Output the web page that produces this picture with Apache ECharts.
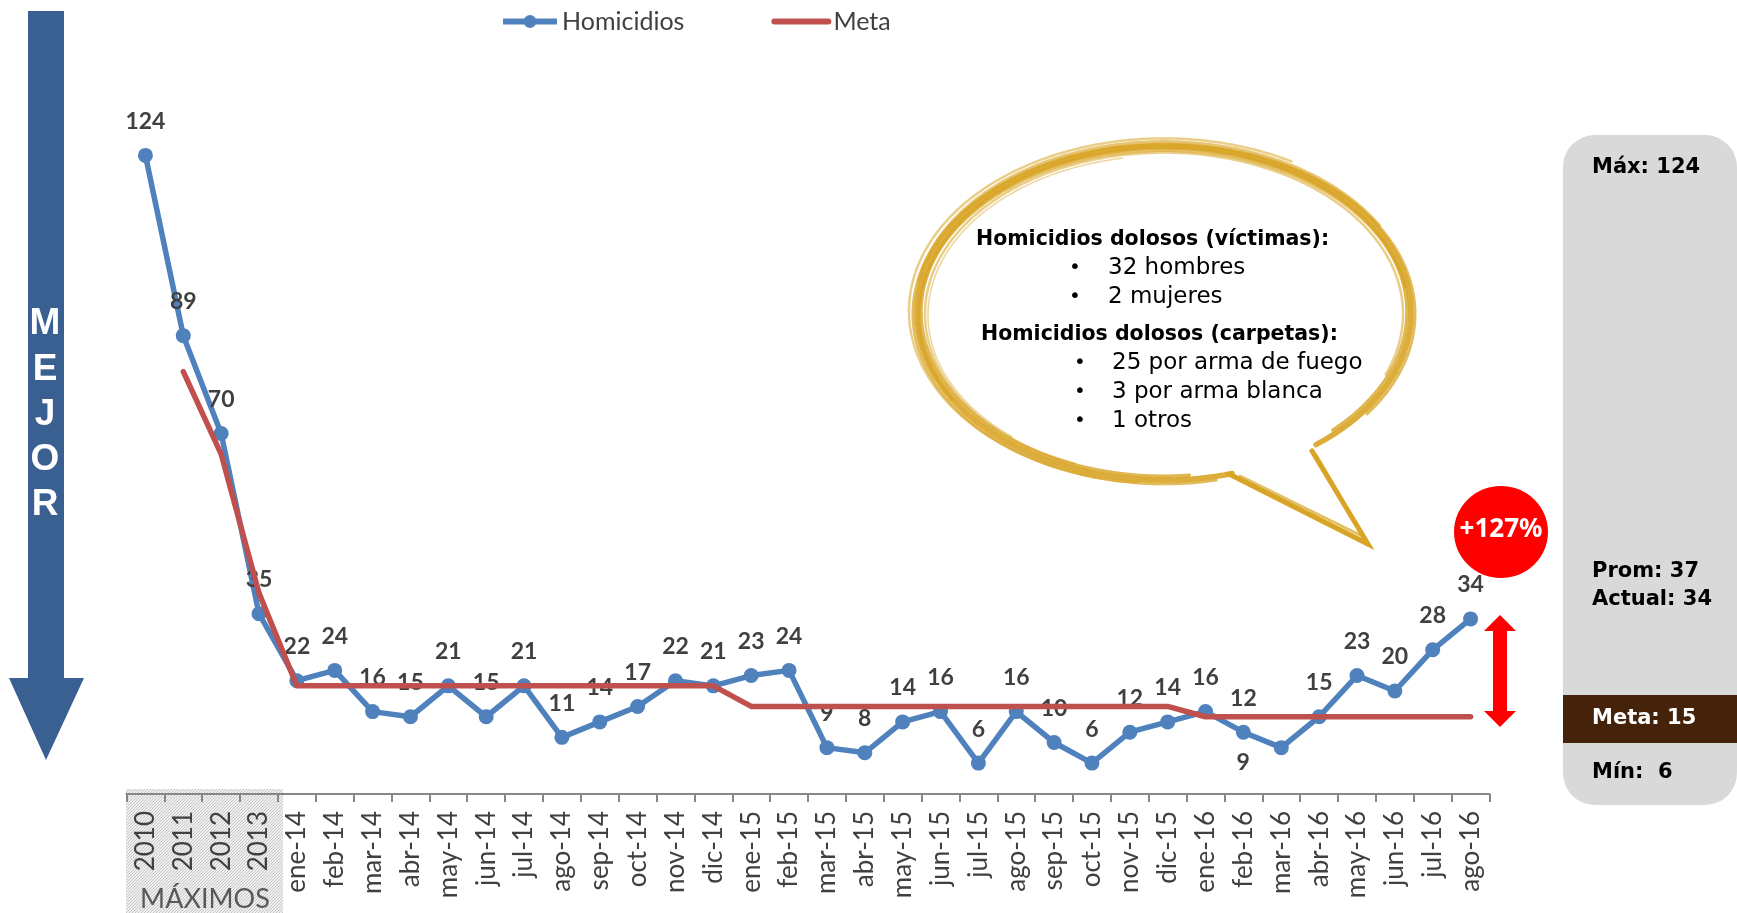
<!DOCTYPE html>
<html>
<head>
<meta charset="utf-8">
<script src="https://cdn.jsdelivr.net/npm/echarts@6/dist/echarts.min.js"></script>
<style>
html,body{margin:0;padding:0;background:#fff;}
#chart{width:1737px;height:913px;}
</style>
</head>
<body>
<div id="chart"></div>
<script>
// ---- data ----
const categories = ['2010','2011','2012','2013',
  'ene-14','feb-14','mar-14','abr-14','may-14','jun-14','jul-14','ago-14','sep-14','oct-14','nov-14','dic-14',
  'ene-15','feb-15','mar-15','abr-15','may-15','jun-15','jul-15','ago-15','sep-15','oct-15','nov-15','dic-15',
  'ene-16','feb-16','mar-16','abr-16','may-16','jun-16','jul-16','ago-16'];
const homicidios = [124, 89, 70, 35,
  22, 24, 16, 15, 21, 15, 21, 11, 14, 17, 22, 21,
  23, 24, 9, 8, 14, 16, 6, 16, 10, 6, 12, 14,
  16, 12, 9, 15, 23, 20, 28, 34];
const meta = [null, 82, 66, 39,
  21, 21, 21, 21, 21, 21, 21, 21, 21, 21, 21, 21,
  17, 17, 17, 17, 17, 17, 17, 17, 17, 17, 17, 17,
  15, 15, 15, 15, 15, 15, 15, 15];
const seriesNames = ['Homicidios', 'Meta'];
const panelTexts = ['Máx: 124', 'Prom: 37', 'Actual: 34', 'Meta: 15', 'Mín:  6'];
const changeText = '+127%';
const bubbleTitles = ['Homicidios dolosos (víctimas):', 'Homicidios dolosos (carpetas):'];
const bubbleVictimas = ['32 hombres', '2 mujeres'];
const bubbleCarpetas = ['25 por arma de fuego', '3 por arma blanca', '1 otros'];
const arrowLetters = ['M', 'E', 'J', 'O', 'R'];
const maxLabel = 'MÁXIMOS';

// ---- helpers ----
const BLUE = '#4F81BD', RED = '#C0504D', GOLD = '#D8A425';
function ellipsePts(cx, cy, rx, ry, a0, a1, n) {
  const pts = [];
  for (let i = 0; i <= n; i++) {
    const a = (a0 + (a1 - a0) * i / n) * Math.PI / 180;
    pts.push([cx + rx * Math.cos(a), cy + ry * Math.sin(a)]);
  }
  return pts;
}
function dotPattern() {
  const c = document.createElement('canvas');
  c.width = 3; c.height = 3;
  const g = c.getContext('2d');
  g.fillStyle = '#EFEFEF'; g.fillRect(0, 0, 3, 3);
  g.fillStyle = '#C8C8C8'; g.fillRect(0, 0, 1, 1); g.fillRect(2, 1, 1, 1); g.fillRect(1, 2, 1, 1);
  return c;
}

const chart = echarts.init(document.getElementById('chart'), null, {renderer: 'canvas'});

// data labels (one point has its label shifted as in the reference)
const homData = homicidios.map((v, i) => {
  if (categories[i] === 'mar-16') {
    return {value: v, label: {position: 'inside', offset: [-38, 15]}};
  }
  return v;
});

const graphics = [];
// MÁXIMOS box
graphics.push({type: 'rect', z: -1, shape: {x: 126, y: 789, width: 157, height: 124},
  style: {fill: {image: dotPattern(), repeat: 'repeat'}}});
graphics.push({type: 'text', z: -1, style: {text: maxLabel, x: 205, y: 899, align: 'center', verticalAlign: 'middle',
  fontFamily: 'Lato', fontSize: 27, fill: '#595959'}});

// MEJOR arrow
graphics.push({type: 'polygon', shape: {points: [[28, 11], [64, 11], [64, 678], [84, 678], [46, 760], [9, 678], [28, 678]]},
  style: {fill: '#396091'}});
arrowLetters.forEach((ch, i) => {
  graphics.push({type: 'text', style: {text: ch, x: 45, y: 324 + i * 45.3, align: 'center', verticalAlign: 'middle',
    fontFamily: 'Liberation Sans', fontWeight: 'bold', fontSize: 37, fill: '#ffffff'}});
});

// speech bubble (brush strokes)
const bcx = 1164, bcy = 313;
const strokes = [
  {dr: 0, dy: 0, w: 5.5, op: 0.9, a0: 74, a1: 412},
  {dr: -4, dy: -1, w: 3.5, op: 0.8, a0: 84, a1: 406},
  {dr: 4, dy: 1, w: 3, op: 0.75, a0: 78, a1: 396},
  {dr: -8, dy: 1, w: 2.5, op: 0.55, a0: 112, a1: 382},
  {dr: 8, dy: -2, w: 2.5, op: 0.55, a0: 96, a1: 300},
  {dr: -2, dy: 3, w: 3, op: 0.7, a0: 150, a1: 350},
  {dr: 2, dy: -3, w: 3, op: 0.65, a0: 190, a1: 330},
  {dr: -11, dy: 2, w: 1.5, op: 0.45, a0: 130, a1: 260}
];
strokes.forEach(s => {
  graphics.push({type: 'polyline', shape: {points: ellipsePts(bcx, bcy + s.dy, 247 + s.dr, 167 + s.dr * 0.7, s.a0, s.a1, 180)},
    style: {stroke: GOLD, lineWidth: s.w, opacity: s.op, fill: null, lineCap: 'round', lineJoin: 'round'}});
});
// tail
graphics.push({type: 'polyline', shape: {points: [[1312, 451], [1368, 544], [1229, 474]]},
  style: {stroke: GOLD, lineWidth: 5, fill: null, lineCap: 'round', lineJoin: 'miter'}});
graphics.push({type: 'polyline', shape: {points: [[1316, 455], [1364, 537], [1240, 476]]},
  style: {stroke: GOLD, lineWidth: 3, opacity: 0.7, fill: null, lineCap: 'round'}});

// bubble texts
const bubbleFont = 'DejaVu Sans';
graphics.push({type: 'text', style: {text: bubbleTitles[0], x: 976, y: 240, verticalAlign: 'middle',
  fontFamily: bubbleFont, fontWeight: 'bold', fontSize: 20.5, fill: '#000'}});
bubbleVictimas.forEach((t, i) => {
  graphics.push({type: 'text', style: {text: '•', x: 1075, y: 268 + i * 29, align: 'center', verticalAlign: 'middle',
    fontFamily: bubbleFont, fontSize: 20, fill: '#000'}});
  graphics.push({type: 'text', style: {text: t, x: 1108, y: 268 + i * 29, verticalAlign: 'middle',
    fontFamily: bubbleFont, fontSize: 23, fill: '#000'}});
});
graphics.push({type: 'text', style: {text: bubbleTitles[1], x: 981, y: 335, verticalAlign: 'middle',
  fontFamily: bubbleFont, fontWeight: 'bold', fontSize: 20.5, fill: '#000'}});
bubbleCarpetas.forEach((t, i) => {
  graphics.push({type: 'text', style: {text: '•', x: 1080, y: 363 + i * 29, align: 'center', verticalAlign: 'middle',
    fontFamily: bubbleFont, fontSize: 20, fill: '#000'}});
  graphics.push({type: 'text', style: {text: t, x: 1112, y: 363 + i * 29, verticalAlign: 'middle',
    fontFamily: bubbleFont, fontSize: 23, fill: '#000'}});
});

// red circle +127%
graphics.push({type: 'ellipse', shape: {cx: 1501, cy: 532, rx: 47, ry: 46}, style: {fill: '#FF0000'}});
graphics.push({type: 'text', style: {text: changeText, x: 1501, y: 530, align: 'center', verticalAlign: 'middle',
  fontFamily: 'Noto Sans', fontWeight: 'bold', fontSize: 26, fill: '#ffffff'}});

// red double arrow
graphics.push({type: 'polygon', shape: {points: [[1500, 615], [1516, 631], [1507, 631], [1507, 711], [1516, 711], [1500, 727],
  [1484, 711], [1493, 711], [1493, 631], [1484, 631]]}, style: {fill: '#FF0000'}});

// right panel
graphics.push({type: 'rect', shape: {x: 1563, y: 135, width: 174, height: 670, r: 32}, style: {fill: '#D9D9D9'}});
graphics.push({type: 'rect', shape: {x: 1563, y: 695, width: 174, height: 48}, style: {fill: '#45230A'}});
const panelY = [168, 572, 600, 719, 773];
panelTexts.forEach((t, i) => {
  graphics.push({type: 'text', style: {text: t, x: 1592, y: panelY[i], verticalAlign: 'middle',
    fontFamily: bubbleFont, fontWeight: 'bold', fontSize: 21, fill: i === 3 ? '#ffffff' : '#000000'}});
});

const option = {
  backgroundColor: '#ffffff',
  animation: false,
  legend: {
    data: [{name: seriesNames[0]}, {name: seriesNames[1], itemStyle: {opacity: 0}}],
    left: 495, top: 4, itemWidth: 54, itemHeight: 16, itemGap: 87,
    lineStyle: {width: 6},
    textStyle: {fontFamily: 'Lato', fontSize: 25, color: '#404040'}
  },
  grid: {left: 126.5, right: 247.5, top: 73, bottom: 119, containLabel: false, outerBoundsMode: 'none'},
  xAxis: {
    type: 'category', data: categories, boundaryGap: true,
    axisLine: {lineStyle: {color: '#868686', width: 2}},
    axisTick: {show: true, interval: 0, length: 8, lineStyle: {color: '#868686', width: 2}},
    axisLabel: {interval: 0, rotate: 90, margin: 17, fontFamily: 'Lato', fontSize: 26, color: '#404040'}
  },
  yAxis: {type: 'value', min: 0, max: 140, show: false, splitLine: {show: false}},
  series: [
    {
      name: seriesNames[0], type: 'line', data: homData,
      symbol: 'circle', symbolSize: 15,
      lineStyle: {color: BLUE, width: 5.5},
      itemStyle: {color: BLUE},
      label: {show: true, position: 'top', distance: 15, fontFamily: 'Lato', fontWeight: 'bold', fontSize: 23, color: '#404040'},
      z: 2
    },
    {
      name: seriesNames[1], type: 'line', data: meta,
      symbol: 'none', showSymbol: false,
      lineStyle: {color: RED, width: 5.5, cap: 'round', join: 'round'},
      itemStyle: {color: RED},
      z: 3
    }
  ],
  graphic: graphics
};
chart.setOption(option);
</script>
</body>
</html>
